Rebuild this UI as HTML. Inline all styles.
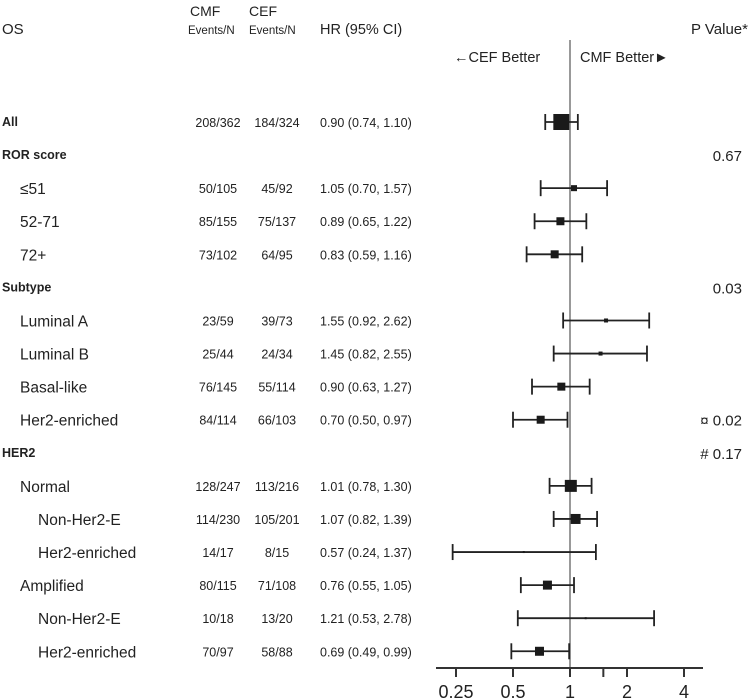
<!DOCTYPE html>
<html><head><meta charset="utf-8"><style>
body{margin:0;background:#fff;}
svg{display:block;font-family:"Liberation Sans",sans-serif;}
</style></head><body>
<svg id="c" width="750" height="700"></svg>
<script>
const labels=["All","ROR score","≤51","52-71","72+","Subtype","Luminal A","Luminal B","Basal-like","Her2-enriched","HER2","Normal","Non-Her2-E","Her2-enriched","Amplified","Non-Her2-E","Her2-enriched"];
const levels=[0,0,1,1,1,0,1,1,1,1,0,1,2,2,1,2,2];
const cmf=["208/362","","50/105","85/155","73/102","","23/59","25/44","76/145","84/114","","128/247","114/230","14/17","80/115","10/18","70/97"];
const cef=["184/324","","45/92","75/137","64/95","","39/73","24/34","55/114","66/103","","113/216","105/201","8/15","71/108","13/20","58/88"];
const hr=[0.90,null,1.05,0.89,0.83,null,1.55,1.45,0.90,0.70,null,1.01,1.07,0.57,0.76,1.21,0.69];
const lo=[0.74,null,0.70,0.65,0.59,null,0.92,0.82,0.63,0.50,null,0.78,0.82,0.24,0.55,0.53,0.49];
const hi=[1.10,null,1.57,1.22,1.16,null,2.62,2.55,1.27,0.97,null,1.30,1.39,1.37,1.05,2.78,0.99];
const weight=[16,null,6,8,8,null,4,4,8,8,null,12,10,2,9,2,9];
const pvals=["",'0.67',"","","","0.03","","","","¤ 0.02","# 0.17","","","","","",""];
const ticks=[0.25,0.5,1,1.5,2,4];
const tickLabels=["0.25","0.5","1","","2","4"];

const svg=document.getElementById('c');
const NS="http://www.w3.org/2000/svg";
function xs(v){return 570+57*Math.log2(v);}
function ys(i){return 122+i*33.08;}
function el(t,a,txt){const e=document.createElementNS(NS,t);for(const k in a)e.setAttribute(k,a[k]);if(txt!==undefined)e.textContent=txt;svg.appendChild(e);return e;}

let e;
e=el('text',{x:2,y:34,'font-size':15,fill:'#222'},'OS');


e=el('text',{x:190,y:16,'font-size':14,fill:'#222'},'CMF');


e=el('text',{x:249,y:16,'font-size':14,fill:'#222'},'CEF');


e=el('text',{x:188,y:34,'font-size':11.5,fill:'#222'},'Events/N');


e=el('text',{x:249,y:34,'font-size':11.5,fill:'#222'},'Events/N');


e=el('text',{x:320,y:34,'font-size':14.5,fill:'#222'},'HR (95% CI)');


e=el('text',{x:748,y:34,'font-size':15,fill:'#222','text-anchor':'end'},'P Value*');


e=el('text',{x:454,y:62,'font-size':14.5,fill:'#222'},'←CEF Better');


e=el('text',{x:580,y:62,'font-size':14.5,fill:'#222'},'CMF Better►');



e=el('line',{x1:xs(1),x2:xs(1),y1:40,y2:668,stroke:'#999','stroke-width':2});


e=el('line',{x1:436,x2:703,y1:668,y2:668,stroke:'#333','stroke-width':2});


ticks.forEach((t,i)=>{
  let k=el('line',{x1:xs(t),x2:xs(t),y1:668,y2:677,stroke:'#333','stroke-width':2});
  
  
  if(tickLabels[i]){
    let l=el('text',{x:xs(t),y:698,'font-size':18,'text-anchor':'middle',fill:'#222'},tickLabels[i]);
    
    
  }
});

labels.forEach((lab,i)=>{
  const y=ys(i);
  const bold=levels[i]===0;
  let t=el('text',{x:2+levels[i]*18,y:y+(bold?4:6),'font-size':bold?12.5:15.5,'font-weight':bold?'bold':'normal',fill:'#222'},lab);
  
  
  if(cmf[i]){
    t=el('text',{x:218,y:y+5,'font-size':12.5,'text-anchor':'middle',fill:'#222'},cmf[i]);
    
    
    t=el('text',{x:277,y:y+5,'font-size':12.5,'text-anchor':'middle',fill:'#222'},cef[i]);
    
    
  }
  if(hr[i]!==null){
    t=el('text',{x:320,y:y+5,'font-size':12.5,fill:'#222'},hr[i].toFixed(2)+' ('+lo[i].toFixed(2)+', '+hi[i].toFixed(2)+')');
    
    
    let l=el('line',{x1:xs(lo[i]),x2:xs(hi[i]),y1:y,y2:y,stroke:'#222','stroke-width':1.8});
    
    
    [lo[i],hi[i]].forEach(v=>{
      let c=el('line',{x1:xs(v),x2:xs(v),y1:y-8,y2:y+8,stroke:'#222','stroke-width':1.8});
      
      
    });
    const s=weight[i];
    let b=el('rect',{x:xs(hr[i])-s/2,y:y-s/2,width:s,height:s,fill:'#1a1a1a'});
    
    
  }
  if(pvals[i]){
    t=el('text',{x:742,y:y+6,'font-size':15,'text-anchor':'end',fill:'#222'},pvals[i]);
    
    
  }
});
</script>
</body></html>
